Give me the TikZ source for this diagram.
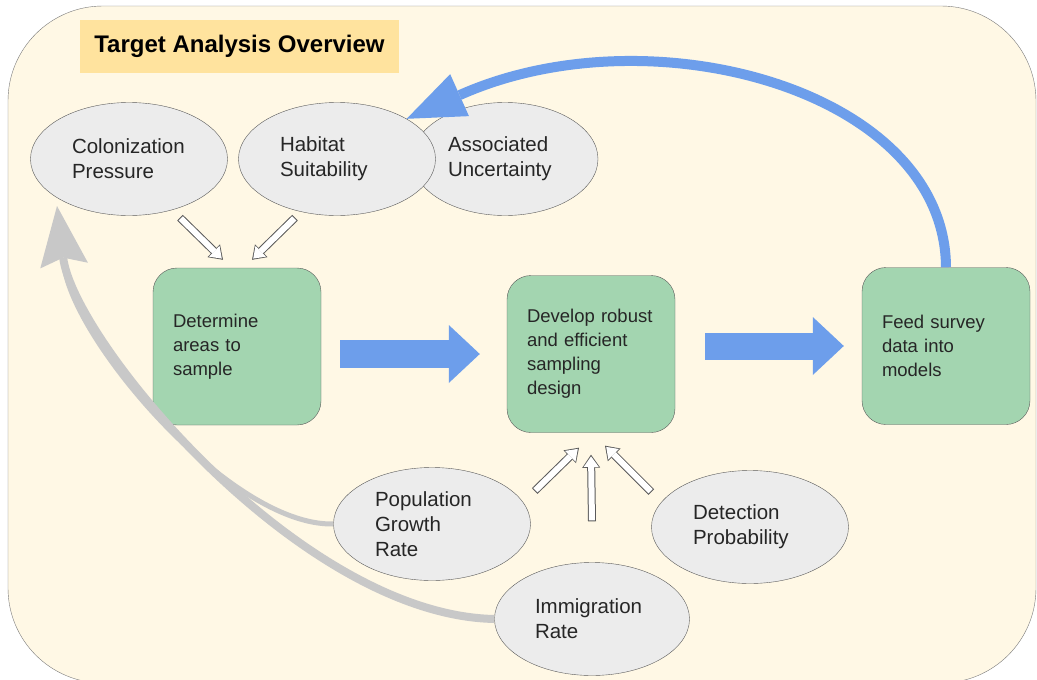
\documentclass[tikz,border=0pt]{standalone}
\usepackage{fontspec}
\setmainfont{Liberation Sans}
\usepackage{tikz}
\usetikzlibrary{shapes.geometric,arrows.meta}
\definecolor{paper}{HTML}{FFF8E5}
\definecolor{framegray}{HTML}{7A7A7A}
\definecolor{titleyellow}{HTML}{FFE39E}
\definecolor{bubblefill}{HTML}{ECECEC}
\definecolor{stagegreen}{HTML}{A3D5B0}
\definecolor{flowblue}{HTML}{6D9EEB}
\definecolor{backgray}{HTML}{C8C8C8}
\definecolor{inkgray}{HTML}{5A5A5A}
\newcommand{\bubblesize}{\fontsize{20.5}{25}\selectfont}
\newcommand{\stagesize}{\fontsize{18.5}{24}\selectfont}
\tikzstyle{titlebox} = [fill=titleyellow, minimum width=319pt, minimum height=53pt, font=\bfseries\fontsize{24}{28}\selectfont]
\tikzstyle{bubble} = [ellipse, draw=inkgray, fill=bubblefill, inner sep=0pt, minimum width=197pt, minimum height=113pt, text width=114pt, align=left, font=\bubblesize, text=black!85]
\tikzstyle{stage} = [rectangle, draw=inkgray, fill=stagegreen, rounded corners=24pt, minimum width=168pt, minimum height=157pt, text width=128pt, inner xsep=20pt, align=left, font=\stagesize, text=black!85]
\tikzstyle{hollow} = [draw=white, line width=6pt, shorten >=1.7pt, shorten <=1pt, -{Triangle[length=10.5pt,width=15pt,line width=0pt]}, preaction={draw=inkgray, line width=8pt, shorten >=0pt, shorten <=0pt, -{Triangle[length=13pt,width=18pt,line width=0pt]}}]
\tikzstyle{flow} = [draw=flowblue, line width=28pt, -{Triangle[length=31pt,width=58pt,line width=0pt]}]
\tikzstyle{feedback} = [draw=backgray]

\begin{document}
\begin{tikzpicture}[x=1pt,y=-1pt]
  \useasboundingbox (0,0) rectangle (1037,680);
  \draw[draw=framegray, fill=paper, rounded corners=95pt] (8,6) rectangle (1036,683);
  \node[titlebox] (title) at (239.5,46.5) {Target Analysis Overview};

  % what drives where we sample
  \node[bubble] (col) at (129,159) {Colonization\\Pressure};
  \node[bubble, minimum width=186pt] (unc) at (505,159) {Associated\\Uncertainty};
  \node[bubble] (hab) at (337,159) {Habitat\\Suitability};

  % the three stages
  \node[stage] (areas) at (237,346.5) {Determine\\areas to\\sample};
  \node[stage] (design) at (591,354) {Develop robust\\and efficient\\sampling\\design};
  \node[stage] (feed) at (946,346) {Feed survey\\data into\\models};

  % what drives the design
  \node[bubble] (pop) at (432,524) {Population\\Growth\\Rate};
  \node[bubble] (dp) at (750,527) {Detection\\Probability};
  \node[bubble, minimum width=195pt] (imm) at (592,619) {Immigration\\Rate};
  \coordinate (gtip) at (57,206);

  \draw[flow, shorten <=19pt, shorten >=27pt] (areas.east |- design.west) -- (design.west);
  \draw[flow, line width=27pt, shorten <=30pt, shorten >=18pt] (design.east |- feed.west) -- (feed.west);

  \draw[hollow] ([xshift=51pt,yshift=-2pt]col.south) -- ([xshift=-14pt,yshift=8pt]areas.north);
  \draw[hollow] ([xshift=-42pt,yshift=-2pt]hab.south) -- ([xshift=15pt,yshift=8pt]areas.north);
  \draw[hollow] ([xshift=4pt,yshift=33pt]pop.east) -- ([xshift=-12pt,yshift=-15pt]design.south);
  \draw[hollow] ([yshift=41pt]imm.north) -- ([yshift=-22pt]design.south);
  \draw[hollow] ([yshift=35pt]dp.west) -- ([xshift=14pt,yshift=-13pt]design.south);

  % loop back to the habitat model
  \draw[draw=flowblue, line width=10pt, -{Triangle[length=58pt,width=46pt,line width=0pt]}] (feed.north) .. controls (945,90) and (650,10) .. (hab.30);

  % back to colonization pressure
  \draw[feedback, line width=5pt, shorten >=60pt] (pop.west) .. controls (230,526) and (73,340) .. (gtip);
  \draw[feedback, line width=8pt, -{Stealth[length=60pt,width=48pt,inset=8pt,line width=0pt]}] (imm.west) .. controls (300,615) and (73,340) .. (gtip);
\end{tikzpicture}
\end{document}
